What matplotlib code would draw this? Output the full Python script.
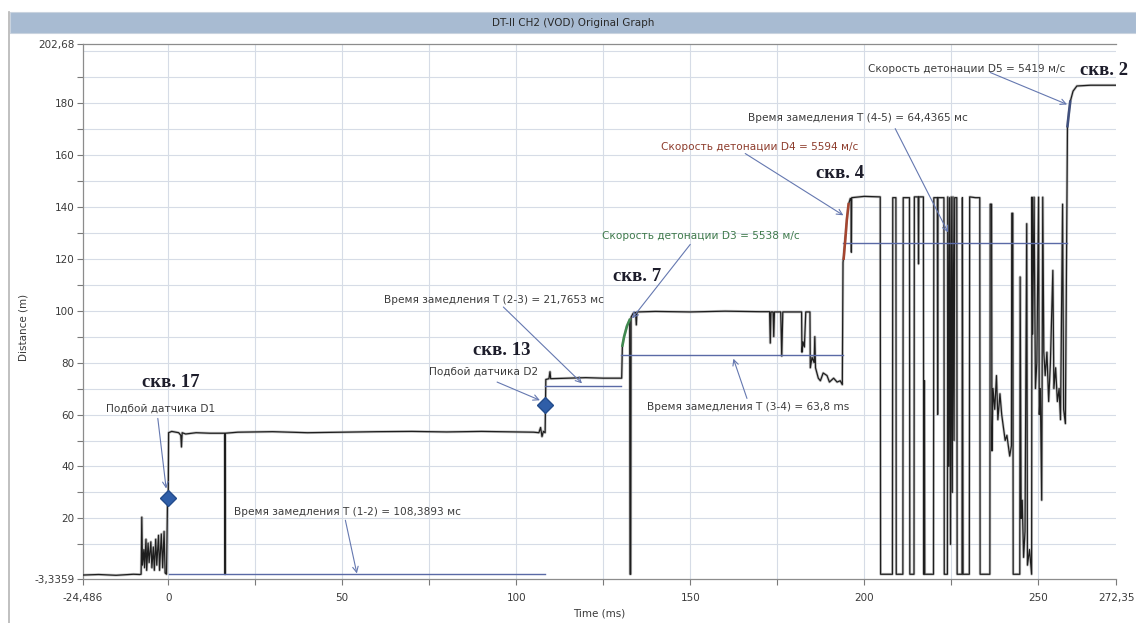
import matplotlib
matplotlib.use("Agg")
import matplotlib.pyplot as plt
from matplotlib.patches import Rectangle
from matplotlib.lines import Line2D
from matplotlib.ticker import FixedLocator, FixedFormatter

# ---------------- data ----------------
time_ms = [
    -24.486, -20, -15, -10, -8.2,
    -7.8, -7.6, -7.4, -7.0, -6.8, -6.4, -6.2, -5.8, -5.5, -5.0, -4.7, -4.3, -4.0,
    -3.6, -3.3, -2.8, -2.5, -2.0, -1.6, -1.2, -0.9, -0.5, -0.2, 0.0, 0.1,
    1, 3, 3.6, 3.8, 4.0, 5, 8, 12, 16.2, 16.3, 16.35, 16.4,
    20, 30, 40, 50, 60, 70, 80, 90, 100, 105, 106.5, 107, 107.4, 107.8, 108.3,
    108.4, 108.5, 109.4, 109.7, 109.9, 115, 120, 125, 130.3,
    130.5, 131, 131.8, 132.6, 132.7, 132.9, 133.0, 133.6, 134.3, 134.5, 134.7,
    140, 150, 160, 170, 172.8, 173, 173.2, 173.8, 174, 174.2, 176, 176.3, 176.6,
    182, 182.1, 182.4, 182.8, 183.2, 184.4, 184.5, 185, 185.6, 185.8, 186, 186.8,
    187.4, 188.2, 189.3, 190, 191.2, 192.2, 193.1, 193.7, 193.9,
    194.3, 195, 195.5, 196, 196.2, 196.3, 196.4, 200, 204.6, 204.7, 208.1,
    208.2, 209.1, 209.2, 211.1, 211.2, 213, 213.1, 214.3, 214.4, 215.5, 215.6,
    215.7, 217, 217.1, 217.3, 217.4, 219.9, 220, 221, 221.1, 221.2, 222.9, 223,
    223.9, 224, 224.3, 224.5, 224.8, 225, 225.3, 225.5, 225.8, 226, 226.6,
    226.7, 228.1, 228.2, 228.4, 230.2, 230.3, 232, 233.2, 233.3, 236.1, 236.2,
    236.6, 236.7, 237, 237.5, 238, 238.4, 239, 239.5, 240, 240.5, 241, 241.8,
    242.3, 242.4, 242.7, 242.8, 244.7, 244.8, 245.1, 245.4, 245.8, 246.2, 246.7,
    246.9, 247.5, 248.1, 248.2, 248.4, 248.8, 249.2, 249.6, 250.1, 250.3, 250.6,
    251, 251.3, 251.6, 252, 252.5, 253, 253.5, 254.2, 254.5, 255, 255.5, 256,
    256.4, 257, 257.3, 257.8, 258.1, 258.4, 258.8, 259.2, 260, 261.1, 265, 272.35,
]
distance_m = [
    -1.8, -1.6, -1.9, -1.5, -1.6,
    -1.5, 20.5, 2, 8, 1, 12, 0, 10.5, 3, 11, 1, 9, 0,
    12, 2, 13.5, 0, 14, 1, 15, -1, -1.5, 28, 28, 53,
    53.5, 53, 52, 47.5, 53, 52.5, 53, 52.8, 52.8, 24.5, -1.5, 52.8,
    53.2, 53.4, 53.0, 53.2, 53.4, 53.5, 53.3, 53.5, 53.3, 53.2, 53, 55, 51.5, 53.5, 53,
    63.5, 73.5, 73.8, 76.5, 73.8, 74, 74.2, 74, 74,
    86.5, 90, 94, 96.5, -1.5, -1.5, 97.5, 99, 99.3, 94.5, 99.5,
    99.7, 99.5, 99.8, 99.6, 99.6, 87.5, 99.5, 99.5, 90, 99.5, 99.5, 82.5, 99.5,
    99.5, 84, 88, 86, 99.5, 99.5, 78, 82, 80, 90, 78, 74,
    73, 76, 75, 72.5, 74, 72.5, 73, 71.5, 118.5,
    124, 135, 141, 143.2, 143, 122.5, 143.5, 144, 143.8, -1.5, -1.5,
    143.5, 143.5, -1.5, -1.5, 143.5, 143.5, -1.5, -1.5, 143.8, 143.8, 118,
    143.8, 143.8, -1.5, 73, -1.5, -1.5, 143.5, 143.5, 60, 143.5, 143.5, -1.5,
    -1.5, 143.8, 40, 143.5, 10, 143.8, 30, 143.8, 50, 143.5, 143.5,
    -1.5, -1.5, 143.5, -1.5, -1.5, 143.8, 143.5, 143.5, -1.5, -1.5, 141,
    141, 46, 70, 62, 75, 58, 68, 60, 55, 50, 52, 44,
    48, 137.5, 137.5, -1.5, -1.5, 113, 20, 27, 5, 15, 133.5,
    2, 8, -1.5, 143.7, 91, 143.7, 70, 80, 143.7, 60, 70,
    27, 143.7, 84, 75, 84, 65, 80, 115.5, 70, 78, 65, 70,
    58, 141, 62, 56.5, 111, 171, 176, 180.5, 184.5, 186.5, 186.8, 186.8,
]

# coloured velocity segments
d3_t = [130.5, 131, 131.8, 132.6]
d3_y = [86.5, 90, 94, 96.5]
d4_t = [194.1, 194.6, 195.0, 195.5]
d4_y = [120, 128, 135, 141]
d5_t = [258.4, 258.8, 259.2]
d5_y = [171, 176, 180.5]

# delay-time reference lines
delay_start = [0.1, 108.4, 130.2, 194.0]
delay_end = [108.4, 130.2, 194.0, 258.4]
delay_level = [-1.3, 71.0, 83.0, 126.0]

# sensor hit markers
hit_t = [-0.2, 108.4]
hit_y = [28.0, 63.5]

x_ticks = [-24.486, 0, 25, 50, 75, 100, 125, 150, 175, 200, 225, 250, 272.35]
x_labels = ["-24,486", "0", "", "50", "", "100", "", "150", "", "200", "", "250", "272,35"]
y_ticks = [-3.3359, 10, 20, 30, 40, 50, 60, 70, 80, 90, 100, 110, 120, 130,
           140, 150, 160, 170, 180, 190, 202.68]
y_labels = ["-3,3359", "", "20", "", "40", "", "60", "", "80", "", "100", "",
            "120", "", "140", "", "160", "", "180", "", "202,68"]

# ---------------- figure ----------------
plt.rcParams['font.family'] = ['DejaVu Sans']
fig = plt.figure(figsize=(11.36, 6.23), dpi=100)
fig.patch.set_facecolor('white')

# title band
fig.patches.append(Rectangle((0.0088, 0.947), 0.9912, 0.0337, transform=fig.transFigure,
                             facecolor='#a8bbd2', edgecolor='#c9d3df', lw=0.8, zorder=0))
fig.text(0.505, 0.9635, "DT-II CH2 (VOD) Original Graph", ha='center', va='center',
         fontsize=7.5, color='#2a2a2a')
fig.lines.append(Line2D([0.0079, 0.0079], [0.0, 0.98], transform=fig.transFigure,
                        color='#b5b5b5', lw=1.2))

ax = fig.add_axes([0.0731, 0.0706, 0.9093, 0.8588])
ax.set_xlim(-24.486, 272.35)
ax.set_ylim(-3.3359, 202.68)

# grid
for gx in [0, 25, 50, 75, 100, 125, 150, 175, 200, 225, 250]:
    ax.axvline(gx, color='#d6dce6', lw=0.8, zorder=0)
for gy in range(10, 201, 10):
    ax.axhline(gy, color='#d6dce6', lw=0.8, zorder=0)

# main trace
ax.plot(time_ms, distance_m, color='#9a9a9a', lw=2.0, alpha=0.55, zorder=2)
ax.plot(time_ms, distance_m, color='#1e1e1e', lw=0.9, zorder=3)
ax.plot(d3_t, d3_y, color='#3f8a4f', lw=1.8, zorder=4)
ax.plot(d4_t, d4_y, color='#a5452f', lw=1.8, zorder=4)
ax.plot(d5_t, d5_y, color='#40507e', lw=1.8, zorder=4)

for s, e, lv in zip(delay_start, delay_end, delay_level):
    ax.plot([s, e], [lv, lv], color='#5a6aa6', lw=1.0, zorder=3)
ax.plot(hit_t, hit_y, linestyle='none', marker='D', markersize=8.5,
        color='#2f5ea8', markeredgecolor='#234c8c', zorder=5)

# annotations
txt_kw = dict(fontsize=7.6, color='#3c3c3c', ha='center', va='center', zorder=6)
arr_kw = dict(arrowstyle='->', color='#6578b0', lw=0.8, shrinkA=0, shrinkB=0)
well_kw = dict(fontsize=13.5, fontweight='bold', family='Liberation Serif',
               color='#1d1d2b', ha='center', va='center', zorder=6)

ax.text(0.8, 72.4, "скв. 17", **well_kw)
ax.text(-2.3, 62.4, "Подбой датчика D1", **txt_kw)
ax.annotate('', xy=(-0.6, 31.5), xytext=(-3.0, 58.5), arrowprops=arr_kw)

ax.text(51.5, 22.5, "Время замедления T (1-2) = 108,3893 мс", **txt_kw)
ax.annotate('', xy=(54.2, -1.2), xytext=(50.9, 19.3), arrowprops=arr_kw)

ax.text(95.8, 84.5, "скв. 13", **well_kw)
ax.text(90.5, 76.4, "Подбой датчика D2", **txt_kw)
ax.annotate('', xy=(106.8, 65.5), xytext=(94.5, 72.5), arrowprops=arr_kw)

ax.text(93.7, 104.0, "Время замедления T (2-3) = 21,7653 мс", **txt_kw)
ax.annotate('', xy=(118.9, 72.0), xytext=(96.3, 101.4), arrowprops=arr_kw)

ax.text(134.7, 113.2, "скв. 7", **well_kw)
ax.text(153.2, 128.6, "Скорость детонации D3 = 5538 м/с",
        **{**txt_kw, 'color': '#3f7a4c'})
ax.annotate('', xy=(133.3, 97.0), xytext=(150.0, 125.5), arrowprops=arr_kw)

ax.text(166.7, 62.9, "Время замедления T (3-4) = 63,8 ms", **txt_kw)
ax.annotate('', xy=(162.4, 81.5), xytext=(166.3, 66.2), arrowprops=arr_kw)

ax.text(193.0, 153.0, "скв. 4", **well_kw)
ax.text(170.0, 163.2, "Скорость детонации D4 = 5594 м/с",
        **{**txt_kw, 'color': '#8e3d2d'})
ax.annotate('', xy=(194.0, 136.7), xytext=(165.8, 160.5), arrowprops=arr_kw)

ax.text(198.3, 174.0, "Время замедления T (4-5) = 64,4365 мс", **txt_kw)
ax.annotate('', xy=(224.1, 130.1), xytext=(208.9, 170.1), arrowprops=arr_kw)

ax.text(229.5, 193.2, "Скорость детонации D5 = 5419 м/с", **txt_kw)
ax.annotate('', xy=(258.3, 179.4), xytext=(236.2, 191.7), arrowprops=arr_kw)
ax.text(269.0, 192.4, "скв. 2", **well_kw)

# axes styling
ax.xaxis.set_major_locator(FixedLocator(x_ticks))
ax.xaxis.set_major_formatter(FixedFormatter(x_labels))
ax.yaxis.set_major_locator(FixedLocator(y_ticks))
ax.yaxis.set_major_formatter(FixedFormatter(y_labels))
ax.tick_params(axis='both', labelsize=7.5, colors='#7a7a7a', labelcolor='#3a3a3a',
               length=4, width=0.8, direction='out')
ax.tick_params(axis='x', pad=6)
ax.tick_params(axis='y', pad=2)
for side in ['left', 'bottom', 'top']:
    ax.spines[side].set_color('#8c8c8c')
    ax.spines[side].set_linewidth(0.9)
ax.spines['right'].set_visible(False)

ax.set_xlabel("Time (ms)", fontsize=7.5, color='#3a3a3a')
ax.xaxis.set_label_coords(0.5, -0.055)
ax.set_ylabel("Distance (m)", fontsize=7.5, color='#3a3a3a')
ax.yaxis.set_label_coords(-0.053, 0.47)

fig.savefig("out.png", dpi=100)
